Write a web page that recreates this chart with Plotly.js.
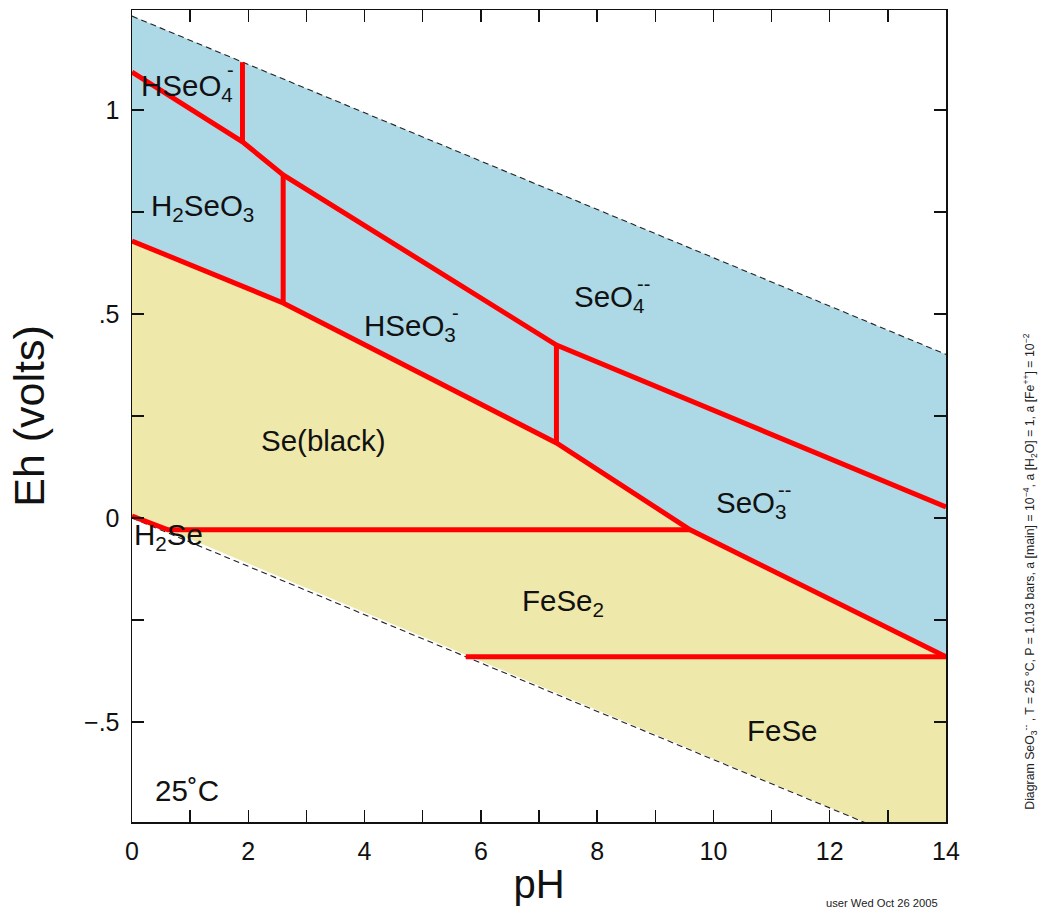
<!DOCTYPE html>
<html>
<head>
<meta charset="utf-8">
<script src="https://cdn.plot.ly/plotly-3.0.1.min.js"></script>
<style>html,body{margin:0;padding:0;background:#fff;}#chart{width:1041px;height:915px;}</style>
</head>
<body>
<div id="chart"></div>
<script>
// ---- data (pH, Eh in volts) ----
const waterUpperPH = [0, 14];
const waterUpperEh = [1.23, 0.401];
const waterLowerPH = [0, 14];
const waterLowerEh = [0, -0.829];

// aqueous / solid boundary
const aqSolidPH = [0, 2.6, 7.3, 9.6, 14];
const aqSolidEh = [0.679, 0.527, 0.184, -0.029, -0.34];

// upper boundary: H2SeO3 / HSeO3- / SeO3-- vs HSeO4- / SeO4--
const upperPH = [0, 1.9, 2.6, 7.3, 14];
const upperEh = [1.093, 0.922, 0.841, 0.424, 0.027];

// vertical boundaries
const vert1PH = [1.9, 1.9];  const vert1Eh = [0.922, 1.117];
const vert2PH = [2.6, 2.6];  const vert2Eh = [0.527, 0.841];
const vert3PH = [7.3, 7.3];  const vert3Eh = [0.184, 0.424];

// H2Se / Se(black) / FeSe2
const h2sePH = [0, 0.62, 9.6];
const h2seEh = [0.005, -0.029, -0.029];

// FeSe2 / FeSe
const feSePH = [5.74, 14];
const feSeEh = [-0.34, -0.34];

// axis ticks
const xTickVals = [0,1,2,3,4,5,6,7,8,9,10,11,12,13,14];
const xTickText = ['0','','2','','4','','6','','8','','10','','12','','14'];
const yTickVals = [-0.5,-0.25,0,0.25,0.5,0.75,1];
const yTickText = ['\u2212.5','','0','','.5','','1'];

// field labels
const labelText = ['HSeO<sub>4</sub>','H<sub>2</sub>SeO<sub>3</sub>','HSeO<sub>3</sub>','SeO<sub>4</sub>','SeO<sub>3</sub>','Se(black)','H<sub>2</sub>Se','FeSe<sub>2</sub>','FeSe','25\u02DAC'];
const labelPH   = [0.95, 1.22, 4.78, 8.22, 10.66, 3.30, 0.62, 7.41, 11.18, 0.95];
const labelEh   = [1.055, 0.762, 0.468, 0.537, 0.034, 0.191, -0.045, -0.207, -0.52, -0.669];
const chargeText = ['-','-','--','--'];
const chargePH   = [1.69, 5.56, 8.80, 11.22];
const chargeEh   = [1.098, 0.502, 0.574, 0.069];

// ---- build traces ----
const bluePH = waterUpperPH.concat(aqSolidPH.slice().reverse());
const blueEh = waterUpperEh.concat(aqSolidEh.slice().reverse());
const yellowPH = aqSolidPH.concat([waterLowerPH[1]], h2sePH.slice(0,2).reverse());
const yellowEh = aqSolidEh.concat([waterLowerEh[1]], h2seEh.slice(0,2).reverse());

const RED = {color:'#ff0000', width:5};
function redLine(x,y){return {x:x,y:y,mode:'lines',line:RED,hoverinfo:'skip',showlegend:false};}

const traces = [
  {x:bluePH,y:blueEh,fill:'toself',fillcolor:'#add8e6',mode:'none',hoverinfo:'skip',showlegend:false},
  {x:yellowPH,y:yellowEh,fill:'toself',fillcolor:'#eee8aa',mode:'none',hoverinfo:'skip',showlegend:false},
  {x:waterUpperPH,y:waterUpperEh,mode:'lines',line:{color:'#222',width:1.1,dash:'6px,4px'},hoverinfo:'skip',showlegend:false},
  {x:waterLowerPH,y:waterLowerEh,mode:'lines',line:{color:'#222',width:1.1,dash:'6px,4px'},hoverinfo:'skip',showlegend:false},
  redLine(aqSolidPH,aqSolidEh),
  redLine(upperPH,upperEh),
  redLine(vert1PH,vert1Eh),
  redLine(vert2PH,vert2Eh),
  redLine(vert3PH,vert3Eh),
  redLine(h2sePH,h2seEh),
  redLine(feSePH,feSeEh)
];

const FONT = '"Liberation Sans", Arial, Helvetica, sans-serif';
const annotations = [];
for (let i=0;i<labelText.length;i++){
  annotations.push({x:labelPH[i],y:labelEh[i],xref:'x',yref:'y',text:labelText[i],showarrow:false,
    font:{family:FONT,size:29.5,color:'#111'},xanchor:'center',yanchor:'middle'});
}
for (let i=0;i<chargeText.length;i++){
  annotations.push({x:chargePH[i],y:chargeEh[i],xref:'x',yref:'y',text:chargeText[i],showarrow:false,
    font:{family:FONT,size:20,color:'#111'},xanchor:'center',yanchor:'middle'});
}
annotations.push({x:1.103,y:0.308,xref:'paper',yref:'paper',textangle:-90,showarrow:false,
  text:'Diagram SeO<sub>3</sub><sup>--</sup> , T = 25 \u00B0C, P = 1.013 bars, a [main] = 10<sup>\u22124</sup>, a [H<sub>2</sub>O] = 1, a [Fe<sup>++</sup>] = 10<sup>\u22122</sup>',
  font:{family:FONT,size:12.3,color:'#222'},xanchor:'center',yanchor:'middle'});
annotations.push({x:0.921,y:-0.1,xref:'paper',yref:'paper',showarrow:false,text:'user Wed Oct 26 2005',
  font:{family:FONT,size:11.2,color:'#222'},xanchor:'center',yanchor:'middle'});

const layout = {
  width:1041,height:915,
  margin:{l:132,r:95,t:10,b:93},
  paper_bgcolor:'#fff',plot_bgcolor:'#fff',
  font:{family:FONT,color:'#111'},
  showlegend:false,
  xaxis:{range:[0,14],tickvals:xTickVals,ticktext:xTickText,ticks:'inside',ticklen:12,tickwidth:1.3,tickcolor:'#111',
    showline:true,linecolor:'#111',linewidth:1.5,mirror:'ticks',showgrid:false,zeroline:false,
    tickfont:{family:FONT,size:25,color:'#111'},ticklabelstandoff:6,
    title:{text:'pH',font:{family:FONT,size:40,color:'#111'},standoff:6}},
  yaxis:{range:[-0.745,1.245],tickvals:yTickVals,ticktext:yTickText,ticks:'inside',ticklen:12,tickwidth:1.3,tickcolor:'#111',
    showline:true,linecolor:'#111',linewidth:1.5,mirror:'ticks',showgrid:false,zeroline:false,
    tickfont:{family:FONT,size:25,color:'#111'},ticklabelstandoff:6,
    title:{text:'Eh (volts)',font:{family:FONT,size:43,color:'#111'},standoff:26}},
  annotations:annotations
};

Plotly.newPlot('chart',traces,layout,{displayModeBar:false,staticPlot:true});
</script>
</body>
</html>
